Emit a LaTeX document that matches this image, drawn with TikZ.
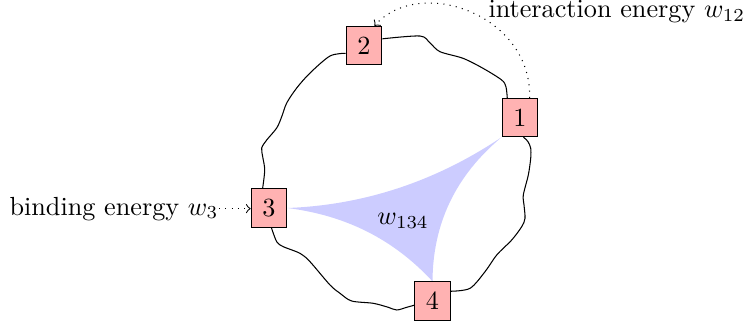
\documentclass[tikz,border=0pt]{standalone}
\usetikzlibrary{calc}
\pgfdeclarelayer{background}
\pgfsetlayers{background,main}
\begin{document}
\begin{tikzpicture}[x=0.3817pt,y=-0.3817pt,
  site/.style={draw,fill=red!30,minimum width=13.6pt,minimum height=14.6pt,inner sep=0pt},
  bond/.style={thin},
  hint/.style={dotted,->},
  caption/.style={inner sep=0pt}]
\useasboundingbox (0,0) rectangle (749,325);

% sites on the ring
\node[site] (n1) at (520,117.5) {1};
\node[site] (n2) at (364,45.5) {2};
\node[site] (n3) at (269,208) {3};
\node[site] (n4) at (432.5,301) {4};

% three-body term, with concave sides
\begin{pgfonlayer}{background}
  \fill[blue!20] (n3.east) .. controls (365,205) and (436.5,180.9) .. (n1.south west)
                 .. controls (455.6,175.6) and (432.8,223.5) .. (n4.north)
                 .. controls (393.7,239.5) and (346.5,215.5) .. cycle;
\end{pgfonlayer}
\node[caption] (w134) at (403,221) {$w_{134}$};

% wiggly bonds between neighbouring sites
\draw[bond] plot[smooth] coordinates {(n2.20) (420,36) (430,43) (440,51.7) (463,58.3) (483,68.3) (501.7,80) (506,87) (n1.123)};
\draw[bond] plot[smooth] coordinates {(n2.203) (330,56) (310,73) (296.7,88) (286.7,103) (281.7,116.7) (276.7,128) (266.7,140) (261.7,148) (262.7,156.7) (264.7,170) (n3.108)};
\draw[bond] plot[smooth] coordinates {(n3.277) (276.7,241.7) (283.3,246.7) (300,253.3) (310,261.7) (330,285) (340,293.3) (351.7,301) (373.3,303.3) (388.3,307.3) (396.7,310) (406.7,307.3) (n4.193)};
\draw[bond] plot[smooth] coordinates {(n1.280) (528,141.7) (530.7,148.3) (530.7,158.3) (528.3,175) (523.3,195) (524,205) (525,218.3) (521.7,226.7) (511.7,240) (496.7,255) (485,271.7) (470,288.3) (n4.28)};

% annotations
\node[caption,anchor=base west] (inter) at (488,17.5) {interaction energy $w_{12}$};
\draw[hint] (n1.64) .. controls (532,15) and (420,-25) .. (n2.62);
\node[caption,anchor=base east] (bind) at (219,215) {binding energy $w_3$};
\draw[hint] (bind.east) -- (n3.west |- bind.east);
\end{tikzpicture}
\end{document}
